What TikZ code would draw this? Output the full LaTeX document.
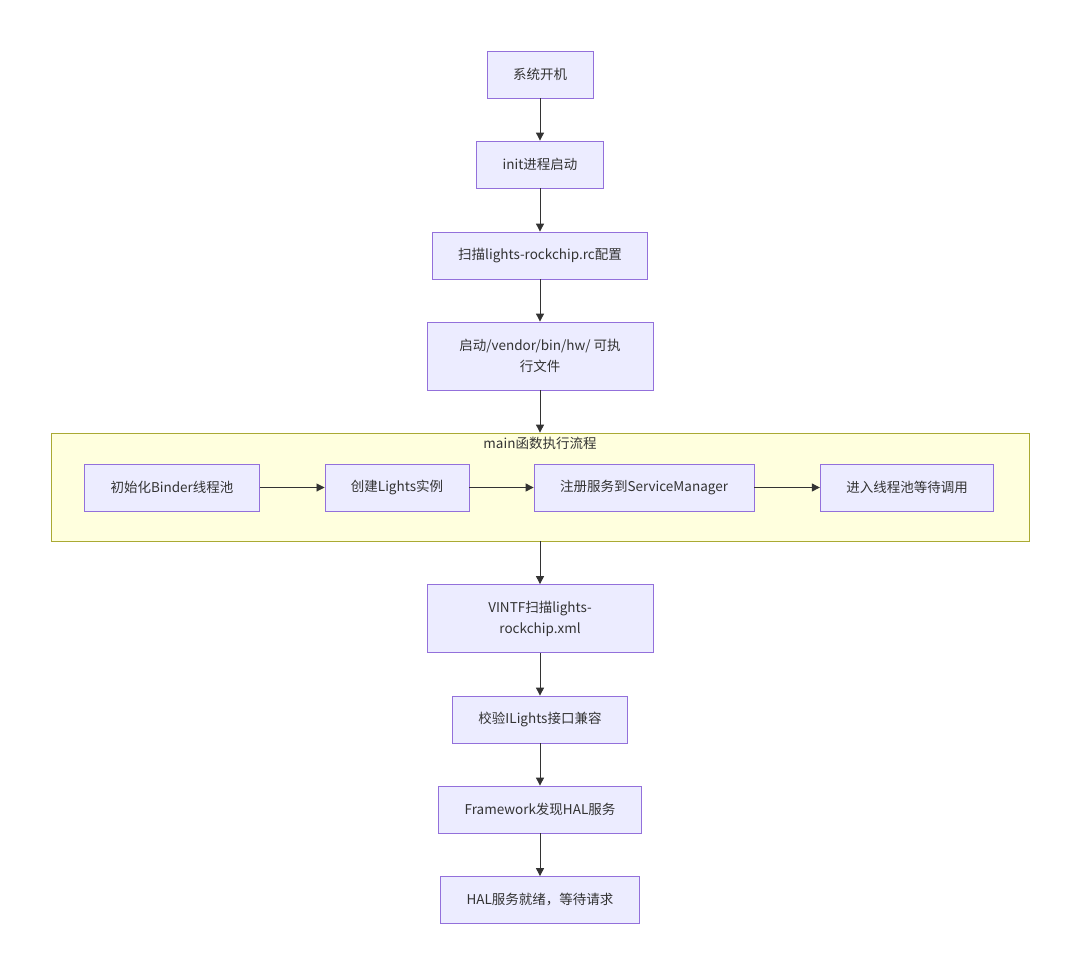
\documentclass[tikz,border=0pt]{standalone}
\usepackage{fontspec}
\setmainfont{Noto Sans CJK SC}
\usetikzlibrary{positioning,arrows.meta}
\definecolor{boxfill}{HTML}{ECECFF}
\definecolor{boxline}{HTML}{9370DB}
\definecolor{clfill}{HTML}{FFFFDE}
\definecolor{clline}{HTML}{AAAA33}
\definecolor{edge}{HTML}{333333}
\begin{document}
\begin{tikzpicture}[x=1pt,y=-1pt]
\tikzset{step box/.style={draw=boxline,fill=boxfill,line width=0.8pt,minimum height=47pt,inner xsep=26pt,font=\fontsize{13.5}{21}\selectfont,text=edge},
  cluster/.style={draw=clline,fill=clfill,line width=0.8pt},
  flow/.style={-{Triangle[length=8pt,width=8pt]},draw=edge,line width=0.9pt}};
   \useasboundingbox (0,0) rectangle (1080,975);

   \node[step box] at (540,74.5) (boot) {系统开机};
   \node[step box] at (540,164.5) (init) {init进程启动};
   \node[step box] at (540,255.5) (scan) {扫描lights-rockchip.rc配置};
   \node[step box,minimum width=226pt,minimum height=68pt,align=center] at (540,356) (exec) {启动/vendor/bin/hw/ 可执\\行文件};

   \node[cluster,minimum width=978pt,minimum height=108pt] at (540,487) (main) {};
   \node[below=1pt of main.north,font=\fontsize{13.5}{16}\selectfont,text=edge] (title) {main函数执行流程};
   \node[step box] at (172,487.5) (binder) {初始化Binder线程池};
   \node[step box] at (397,487.5) (lights) {创建Lights实例};
   \node[step box] at (644,487.5) (reg) {注册服务到ServiceManager};
   \node[step box] at (907,487.5) (pool) {进入线程池等待调用};

   \node[step box,minimum width=226pt,minimum height=68pt,align=center] at (540,618.5) (vintf) {VINTF扫描lights-\\rockchip.xml};
   \node[step box] at (540,719.5) (check) {校验ILights接口兼容};
   \node[step box] at (540,809.5) (fw) {Framework发现HAL服务};
   \node[step box] at (540,900) (ready) {HAL服务就绪，等待请求};

   \draw[flow] (boot) -- (init);
   \draw[flow] (init) -- (scan);
   \draw[flow] (scan) -- (exec);
   \draw[flow] (exec) -- (main);
   \draw[flow] (binder) -- (lights);
   \draw[flow] (lights) -- (reg);
   \draw[flow] (reg) -- (pool);
   \draw[flow] (main) -- (vintf);
   \draw[flow] (vintf) -- (check);
   \draw[flow] (check) -- (fw);
   \draw[flow] (fw) -- (ready);
 \end{tikzpicture}
\end{document}
